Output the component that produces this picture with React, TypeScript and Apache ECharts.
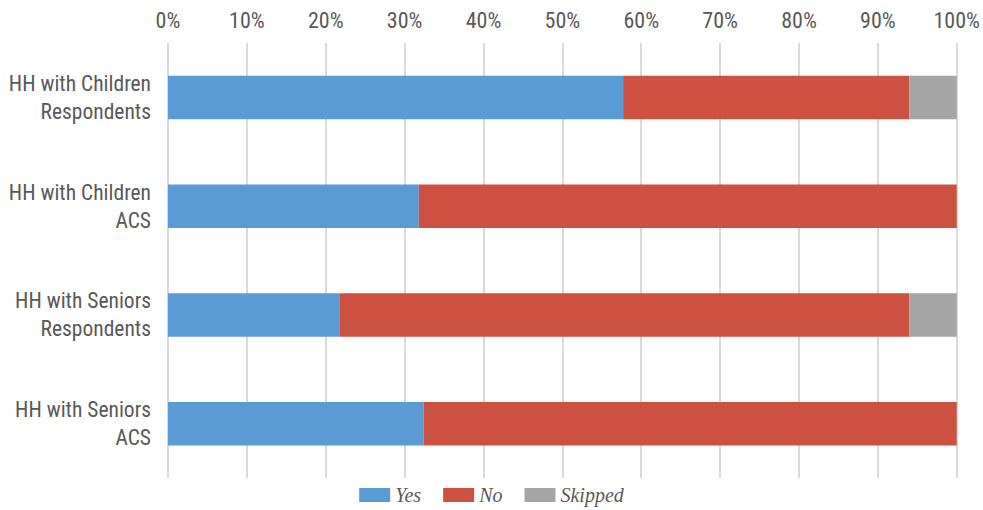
import React, { useEffect, useRef } from "react";
import * as echarts from "echarts";

const categories = [
  "HH with Children\nRespondents",
  "HH with Children\nACS",
  "HH with Seniors\nRespondents",
  "HH with Seniors\nACS",
];
const yesValues = [57.7, 31.8, 21.8, 32.4];
const noValues = [36.3, 68.2, 72.2, 67.6];
const skippedValues = [6.0, 0, 6.0, 0];
const seriesNames = ["Yes", "No", "Skipped"];
const colors = ["#5B9BD5", "#CC5140", "#A5A5A5"];

const axisFont = '"Liberation Sans Narrow", "Roboto Condensed", "DejaVu Sans Condensed", "Noto Sans", sans-serif';

export default function App() {
  const ref = useRef<HTMLDivElement>(null);
  useEffect(() => {
    if (!ref.current) return;
    const chart = echarts.init(ref.current, undefined, { renderer: "svg" });
    const data = [yesValues, noValues, skippedValues];
    chart.setOption({
      animation: false,
      grid: { left: 168, right: 25, top: 43, bottom: 32, containLabel: false },
      legend: {
        bottom: 0,
        left: "center",
        itemWidth: 31,
        itemHeight: 14,
        itemGap: 22,
        icon: "rect",
        textStyle: {
          fontFamily: '"Liberation Serif", "DejaVu Serif", serif',
          fontStyle: "italic",
          fontSize: 20,
          color: "#595959",
        },
        data: seriesNames,
      },
      xAxis: {
        type: "value",
        position: "top",
        min: 0,
        max: 100,
        interval: 10,
        axisLine: { show: false },
        axisTick: { show: false },
        axisLabel: {
          formatter: "{value}%",
          fontFamily: axisFont,
          fontSize: 22,
          color: "#595959",
          margin: 12,
        },
        splitLine: { show: true, lineStyle: { color: "#D9D9D9", width: 2 } },
      },
      yAxis: {
        type: "category",
        inverse: true,
        data: categories,
        axisLine: { show: false },
        axisTick: { show: false },
        axisLabel: {
          fontFamily: axisFont,
          fontSize: 21.5,
          color: "#595959",
          margin: 17,
          lineHeight: 28,
          align: "right",
        },
      },
      series: seriesNames.map((name, i) => ({
        name,
        type: "bar",
        stack: "total",
        barWidth: "40%",
        itemStyle: { color: colors[i] },
        data: data[i],
      })),
    });
    return () => chart.dispose();
  }, []);
  return <div ref={ref} style={{ width: 983, height: 510, position: "absolute", left: 0, top: 0 }} />;
}
